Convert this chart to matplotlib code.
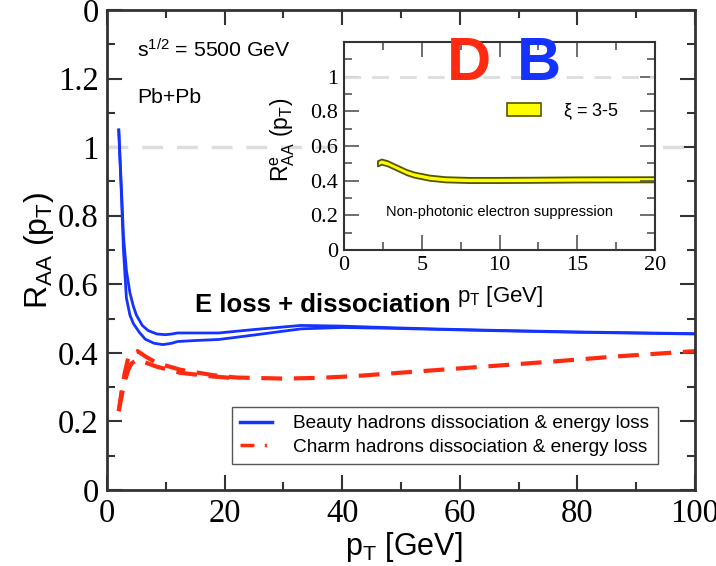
import matplotlib
matplotlib.use("Agg")
import matplotlib.pyplot as plt
from matplotlib.lines import Line2D
from matplotlib.patches import Patch
import numpy as np

plt.rcParams['font.family'] = ['Liberation Sans', 'DejaVu Sans']
plt.rcParams['mathtext.default'] = 'regular'

# beauty band (two edges)
pt_b_hi = [2.0, 2.5, 2.8, 3.3, 3.9, 4.5, 5.0, 6.0, 7.0, 8.5, 10, 11, 12, 15, 19, 25, 33, 40, 47, 55, 65, 80, 100]
r_b_hi = [1.05, 0.86, 0.74, 0.64, 0.575, 0.535, 0.51, 0.48, 0.465, 0.455, 0.453, 0.455, 0.458, 0.458, 0.458,
          0.468, 0.48, 0.478, 0.474, 0.470, 0.466, 0.461, 0.456]
pt_b_lo = [2.0, 2.5, 2.8, 3.3, 3.9, 4.5, 5.5, 6.5, 8, 9.5, 11, 12, 15, 19, 25, 33, 40, 47, 55, 65, 80, 100]
r_b_lo = [1.05, 0.84, 0.70, 0.56, 0.51, 0.485, 0.46, 0.44, 0.428, 0.424, 0.428, 0.433, 0.436, 0.439,
          0.452, 0.470, 0.474, 0.472, 0.469, 0.465, 0.460, 0.455]

# charm band: upper edge over full range, lower edge where it separates (merges beyond ~22 GeV)
pt_c = [2.0, 2.5, 3.0, 3.6, 4.2, 5.2, 6.5, 8.4, 12.4, 18, 22, 30, 36, 42, 53, 65, 76, 87, 100]
r_c_hi = [0.23, 0.29, 0.34, 0.385, 0.40, 0.405, 0.39, 0.371, 0.351, 0.335, 0.328, 0.325, 0.327, 0.332,
          0.346, 0.361, 0.375, 0.39, 0.405]
pt_c_lo = [2.0, 2.5, 3.0, 3.6, 4.2, 5.2, 6.5, 8.4, 12.4, 18, 22]
r_c_lo = [0.23, 0.275, 0.315, 0.35, 0.37, 0.38, 0.372, 0.36, 0.342, 0.331, 0.326]

# inset: non-photonic electrons, xi = 3-5
pt_e = [2.15, 2.4, 2.8, 3.4, 4.0, 4.5, 5.5, 6.5, 8, 10, 12, 15, 20]
r_e = [0.50, 0.51, 0.50, 0.475, 0.45, 0.435, 0.417, 0.408, 0.404, 0.404, 0.405, 0.407, 0.408]
band_half = 0.015

main_yticks = [0, 0.2, 0.4, 0.6, 0.8, 1.0, 1.2, 1.4]
main_ylabels = ['0', '0.2', '0.4', '0.6', '0.8', '1', '1.2', '0']
main_xticks = [0, 20, 40, 60, 80, 100]
inset_yticks = [0, 0.2, 0.4, 0.6, 0.8, 1.0]
inset_ylabels = ['0', '0.2', '0.4', '0.6', '0.8', '1']
inset_xticks = [0, 5, 10, 15, 20]

blue = '#1533ff'
red = '#ff2a10'
axcol = '#333333'

fig = plt.figure(figsize=(7.16, 5.66), dpi=100)
ax = fig.add_axes([107/716, 76/566, 588/716, 480/566])

ax.plot([0, 100], [1, 1], color='#dddddd', lw=2.5, dashes=(6, 4))
ax.plot(pt_b_hi, r_b_hi, color=blue, lw=2)
ax.plot(pt_b_lo, r_b_lo, color=blue, lw=2)
ax.plot(pt_c, r_c_hi, color=red, lw=3, dashes=(5, 2.8))
ax.plot(pt_c_lo, r_c_lo, color=red, lw=3, dashes=(5, 2.8))

ax.set_xlim(0, 100)
ax.set_ylim(0, 1.4)
ax.set_xticks(main_xticks)
ax.set_xticks(np.arange(10, 100, 20), minor=True)
ax.set_yticks(main_yticks)
ax.set_yticklabels(main_ylabels)
ax.set_yticks(np.arange(0.1, 1.4, 0.2), minor=True)
ax.tick_params(which='both', direction='in', top=True, right=True, color=axcol, width=1.5)
ax.tick_params(which='major', length=11, labelsize=23.5, pad=6)
ax.tick_params(which='minor', length=6)
for lab in ax.get_xticklabels() + ax.get_yticklabels():
    lab.set_family('Liberation Serif')
for s in ax.spines.values():
    s.set_linewidth(2)
    s.set_color(axcol)

ax.text(5.1, 1.26, r's$^{1/2}$ = 5500 GeV', fontsize=15.3, va='baseline')
ax.text(5.1, 1.128, 'Pb+Pb', fontsize=15.3, va='baseline')
ax.text(15.0, 0.519, 'E loss + dissociation', fontsize=18.5, fontweight='bold', va='baseline')

fig.text(0.055, 0.558, r'R$_{AA}$ (p$_T$)', rotation=90, ha='center', va='center', fontsize=23)
fig.text(404/716, 0.034, r'p$_T$ [GeV]', ha='center', va='center', fontsize=22)

handles = [Line2D([], [], color=blue, lw=2.5),
           Line2D([], [], color=red, lw=2.5, dashes=(4, 3, 0.6, 3))]
leg = ax.legend(handles, ['Beauty hadrons dissociation & energy loss',
                          'Charm hadrons dissociation & energy loss'],
                loc='lower right', bbox_to_anchor=(0.937, 0.054), borderaxespad=0,
                fontsize=13.7, handlelength=1.7, handletextpad=1.1, fancybox=False,
                framealpha=1, labelspacing=0.3, borderpad=0.45)
leg.get_frame().set_edgecolor('#555555')
leg.get_frame().set_linewidth(1)

# inset
ins = fig.add_axes([344/716, 316/566, 311/716, 208/566])
ins.plot([0, 20], [1, 1], color='#dddddd', lw=2, dashes=(6, 4))
lo = np.array(r_e) - band_half
hi = np.array(r_e) + band_half
ins.fill_between(pt_e, lo, hi, facecolor='#ffff00', edgecolor='#555500', lw=1.3)
ins.set_xlim(0, 20)
ins.set_ylim(0, 1.2)
ins.set_xticks(inset_xticks)
ins.set_xticks(np.arange(2.5, 20, 5), minor=True)
ins.set_yticks(inset_yticks)
ins.set_yticklabels(inset_ylabels)
ins.set_yticks(np.arange(0.1, 1.2, 0.2), minor=True)
ins.tick_params(which='both', direction='in', top=True, right=True, color='#555555', width=1.2)
ins.tick_params(which='major', length=11, labelsize=16, pad=4)
ins.tick_params(which='minor', length=6)
for lab in ins.get_xticklabels() + ins.get_yticklabels():
    lab.set_family('Liberation Serif')
for s in ins.spines.values():
    s.set_linewidth(1.5)
    s.set_color(axcol)

ins.text(2.7, 0.217, 'Non-photonic electron suppression', fontsize=10.5, va='center')
ins.legend([Patch(facecolor='#ffff00', edgecolor='#555500', lw=1.2)], [r'$\xi$ = 3-5'],
           loc='center left', bbox_to_anchor=(0.524, 0.666), frameon=False, fontsize=13,
           borderpad=0, borderaxespad=0, handlelength=1.9, handleheight=0.7, handletextpad=1.2)

fig.text(0.395, 0.752, r'R$_{AA}^{e}$ (p$_T$)', rotation=90, ha='center', va='center', fontsize=16.5)
fig.text(0.698, 0.477, r'p$_T$ [GeV]', ha='center', va='center', fontsize=16)

fig.text(447/716, 0.859, 'D', color=red, fontsize=44, fontweight='bold', va='baseline')
fig.text(517/716, 0.859, 'B', color=blue, fontsize=44, fontweight='bold', va='baseline')

fig.savefig('out.png', dpi=100)
